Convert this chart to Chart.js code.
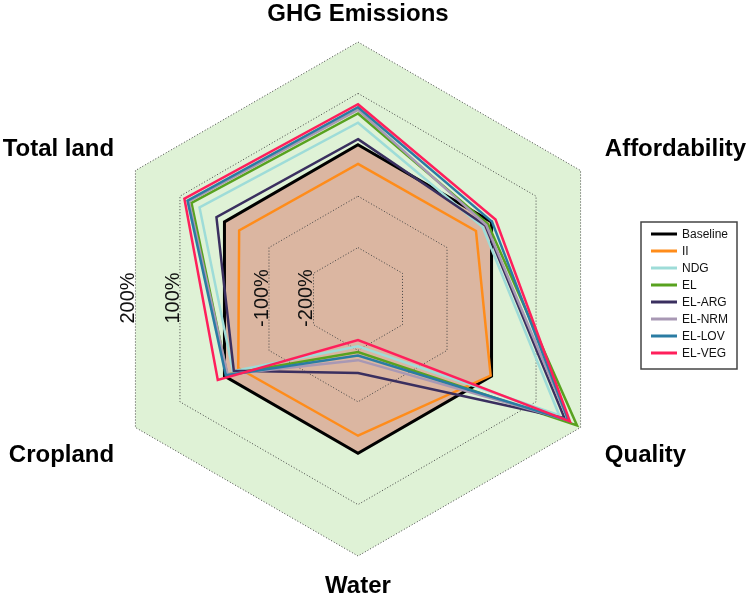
<!DOCTYPE html>
<html>
<head>
<meta charset="utf-8">
<script src="https://cdn.jsdelivr.net/npm/chart.js@4.4.1/dist/chart.umd.min.js"></script>
<style>
  html, body { margin: 0; padding: 0; background: #fff; }
  #wrap { width: 749px; height: 599px; }
</style>
</head>
<body>
<div id="wrap"><canvas id="radar" width="749" height="599"></canvas></div>
<script>
// axes, clockwise from the top
const axisLabels = ['GHG Emissions', 'Affordability', 'Quality', 'Water', 'Cropland', 'Total land'];

// % change vs baseline, same order as axisLabels
const baseline = [0, 0, 0, 0, 0, 0];
const ii       = [-37, -35, -2, -34, -31, -33];
const ndg      = [43, -20, 152, -208, -19, 56];
const el       = [61, -8, 192, -197, -6, 74];
const elArg    = [11, -14, 164, -156, -21, 18];
const elNrm    = [68, -12, 172, -181, -7, 80];
const elLov    = [73, 1, 173, -190, -3, 83];
const elVeg    = [79, 9, 176, -220, 15, 90];

const seriesNames = ['Baseline', 'II', 'NDG', 'EL', 'EL-ARG', 'EL-NRM', 'EL-LOV', 'EL-VEG'];
const seriesData = [baseline, ii, ndg, el, elArg, elNrm, elLov, elVeg];
const seriesColors = ['#000000', '#ff8c1a', '#9edcd8', '#58a21f', '#3a2f5f', '#a898b4', '#2a7ca3', '#ff1f5b'];

// radial scale range and the labelled ticks
const scaleMin = -300;
const scaleMax = 200;
const tickValues = [200, 100, -100, -200];
const tickLabels = ['200%', '100%', '-100%', '-200%'];

const FONT = '"Liberation Sans", Arial, Helvetica, sans-serif';

// green backdrop + brown baseline area, drawn under the grid
const backdrop = {
  id: 'backdrop',
  beforeDraw(chart) {
    const r = chart.scales.r, ctx = chart.ctx;
    const poly = (vals, fill) => {
      ctx.beginPath();
      vals.forEach((v, i) => {
        const p = r.getPointPositionForValue(i, v);
        if (i === 0) ctx.moveTo(p.x, p.y); else ctx.lineTo(p.x, p.y);
      });
      ctx.closePath();
      ctx.fillStyle = fill;
      ctx.fill();
    };
    ctx.save();
    poly(axisLabels.map(() => r.max), '#dff2d6');
    poly(baseline, '#dbb6a1');
    ctx.restore();
  }
};

// vertical tick labels on the left edge of each ring
const sideTicks = {
  id: 'sideTicks',
  afterDatasetsDraw(chart) {
    const r = chart.scales.r, ctx = chart.ctx;
    ctx.save();
    ctx.font = '20px ' + FONT;
    ctx.fillStyle = '#111';
    ctx.textAlign = 'center';
    ctx.textBaseline = 'alphabetic';
    tickValues.forEach((v, i) => {
      const d = r.getDistanceFromCenterForValue(v);
      const x = r.xCenter - d * Math.cos(Math.PI / 6) - 1;
      ctx.save();
      ctx.translate(x, r.yCenter - 1);
      ctx.rotate(-Math.PI / 2);
      ctx.fillText(tickLabels[i], 0, 0);
      ctx.restore();
    });
    ctx.restore();
  }
};

// axis titles around the hexagon
const axisTitles = {
  id: 'axisTitles',
  afterDraw(chart) {
    const r = chart.scales.r, ctx = chart.ctx;
    ctx.save();
    ctx.font = 'bold 24px ' + FONT;
    ctx.fillStyle = '#000';
    ctx.textBaseline = 'middle';
    axisLabels.forEach((lab, i) => {
      const side = Math.abs(r.getPointPosition(i, 10).x - r.xCenter) > 1;
      const p = r.getPointPosition(i, side ? 300 : 285);
      let x = p.x, y = p.y;
      if (!side) {
        ctx.textAlign = 'center';
        if (p.y > r.yCenter) y += 2;
      } else if (p.x > r.xCenter) {
        ctx.textAlign = 'left';
        x -= 13;
      } else {
        ctx.textAlign = 'right';
        x += 16;
      }
      if (side && p.y > r.yCenter) y += 6;
      ctx.fillText(lab, x, y);
    });
    ctx.restore();
  }
};

// boxed legend at the right
const boxLegend = {
  id: 'boxLegend',
  afterDraw(chart) {
    const ctx = chart.ctx;
    const x0 = 641, y0 = 222, w = 96, h = 147;
    ctx.save();
    ctx.fillStyle = '#fff';
    ctx.fillRect(x0, y0, w, h);
    ctx.strokeStyle = '#444';
    ctx.lineWidth = 1.5;
    ctx.strokeRect(x0, y0, w, h);
    ctx.font = '12px ' + FONT;
    ctx.textBaseline = 'middle';
    ctx.textAlign = 'left';
    chart.data.datasets.forEach((ds, i) => {
      const y = y0 + 12 + i * 17;
      ctx.strokeStyle = ds.borderColor;
      ctx.lineWidth = 3;
      ctx.beginPath();
      ctx.moveTo(x0 + 10, y);
      ctx.lineTo(x0 + 36, y);
      ctx.stroke();
      ctx.fillStyle = '#111';
      ctx.fillText(ds.label, x0 + 41, y + 0.5);
    });
    ctx.restore();
  }
};

const datasets = seriesNames.map((name, i) => ({
  label: name,
  data: seriesData[i],
  borderColor: seriesColors[i],
  backgroundColor: seriesColors[i],
  borderWidth: i === 0 ? 3 : 2.5,
  pointRadius: 0,
  pointHoverRadius: 0,
  fill: false,
  tension: 0,
  order: seriesNames.length - 1 - i
}));

new Chart(document.getElementById('radar').getContext('2d'), {
  type: 'radar',
  data: { labels: axisLabels, datasets: datasets },
  options: {
    responsive: false,
    animation: false,
    layout: { padding: { left: 0, right: 33, top: 42, bottom: 43 } },
    plugins: {
      legend: { display: false },
      tooltip: { enabled: false }
    },
    scales: {
      r: {
        min: scaleMin,
        max: scaleMax,
        beginAtZero: false,
        ticks: { display: false, stepSize: 100 },
        pointLabels: { display: false },
        angleLines: { display: false },
        grid: { color: '#444', lineWidth: 1 },
        border: { dash: [1, 2] }
      }
    }
  },
  plugins: [backdrop, sideTicks, axisTitles, boxLegend]
});
</script>
</body>
</html>
